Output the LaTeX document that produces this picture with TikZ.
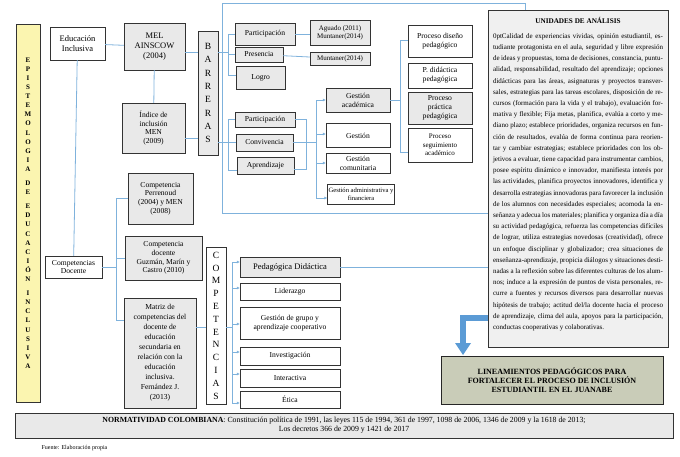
\documentclass[tikz,border=0pt]{standalone}
\usepackage{fontspec}
\setmainfont{Liberation Serif}
\usetikzlibrary{arrows.meta}
\definecolor{lineblue}{HTML}{7FB2DC}
\definecolor{arrowblue}{HTML}{5B9BD5}
\definecolor{boxgray}{HTML}{E9E9E9}
\definecolor{lemon}{HTML}{FBF5B0}
\definecolor{olive}{HTML}{C9CCB8}
\begin{document}
\begin{tikzpicture}[x=1pt,y=-1pt,font=\fontsize{7.6}{8.8}\selectfont]
        \tikzstyle{wbox}=[draw=black!80,fill=white,align=center,inner sep=1pt]
        \tikzstyle{gbox}=[wbox,fill=boxgray]
        \tikzstyle{link}=[draw=lineblue,thick]
        \tikzstyle{arr}=[link,-{Latex[length=3pt,width=3pt]}]
        \useasboundingbox (0,0) rectangle (680,456);

        % columna izquierda
        \node [wbox,fill=lemon,minimum width=24pt,minimum height=378pt] (epi) at (28,213) {};
        \node [font=\fontsize{7}{9.1}\selectfont\bfseries,align=center] at (epi) {E\\P\\I\\S\\T\\E\\M\\O\\L\\O\\G\\I\\A\\[5pt]D\\E\\[5pt]E\\D\\U\\C\\A\\C\\I\\Ó\\N\\[5pt]I\\N\\C\\L\\U\\S\\I\\V\\A};
        \node [wbox,minimum width=55pt,minimum height=33pt,font=\fontsize{8.5}{10}\selectfont] (edu) at (77.5,43.5) {Educación\\Inclusiva};
        \node [wbox,minimum width=57pt,minimum height=22pt] (comp) at (73.5,267) {Competencias\\Docente};

        % barreras
        \node [gbox,minimum width=61pt,minimum height=47pt,font=\fontsize{8.5}{10}\selectfont] (mel) at (154.5,46.5) {MEL\\AINSCOW\\(2004)};
        \node [gbox,minimum width=63pt,minimum height=50pt] (ind) at (153.5,128) {Índice de\\inclusión\\MEN\\(2009)};
        \node [gbox,minimum width=20pt,minimum height=124pt] (bar) at (208,93) {};
        \node [font=\fontsize{9.5}{13.3}\selectfont,align=center] at (bar) {B\\A\\R\\R\\E\\R\\A\\S};
        \node [gbox,minimum width=60pt,minimum height=22pt] (par1) at (265,34) {Participación};
        \node [gbox,minimum width=48pt,minimum height=15pt] (pre) at (259,54.5) {Presencia};
        \node [gbox,minimum width=49pt,minimum height=23pt,anchor=north west,text height=6pt] (log) at (236,66) {Logro};
        \node [gbox,minimum width=60pt,minimum height=25pt,font=\fontsize{7}{8}\selectfont] (agu) at (340,32.5) {Aguado (2011)\\Muntaner(2014)};
        \node [gbox,minimum width=60pt,minimum height=13pt,font=\fontsize{7}{8}\selectfont] (mun) at (340,58.5) {Muntaner(2014)};
        \node [gbox,minimum width=60pt,minimum height=15pt] (par2) at (265,119.5) {Participación};
        \node [gbox,minimum width=57pt,minimum height=17pt] (con) at (264.5,142.5) {Convivencia};
        \node [gbox,minimum width=57pt,minimum height=17pt] (apr) at (265.5,165.5) {Aprendizaje};
        \node [gbox,minimum width=64pt,minimum height=24pt] (gac) at (358,100) {Gestión\\académica};
        \node [wbox,minimum width=64pt,minimum height=24pt,anchor=north,text height=6pt] (ges) at (358,123) {Gestión};
        \node [wbox,minimum width=64pt,minimum height=20pt] (gco) at (358,163) {Gestión\\comunitaria};
        \node [wbox,minimum width=66pt,minimum height=20pt,font=\fontsize{6.6}{8}\selectfont] (gad) at (361,194) {Gestión administrativa y\\financiera};
        \node [wbox,minimum width=64pt,minimum height=32pt] (pdi) at (440,41) {Proceso diseño\\pedagógico};
        \node [wbox,minimum width=64pt,minimum height=25pt] (pdd) at (440,75.5) {P. didáctica\\pedagógica};
        \node [gbox,minimum width=64pt,minimum height=32pt] (ppr) at (440,108) {Proceso\\práctica\\pedagógica};
        \node [wbox,minimum width=64pt,minimum height=34pt,font=\fontsize{7}{8.4}\selectfont] (pse) at (440,145) {Proceso\\seguimiento\\académico};

        % competencias
        \node [gbox,minimum width=65pt,minimum height=51pt] (per) at (160.5,198.5) {Competencia\\Perrenoud\\(2004) y MEN\\(2008)};
        \node [gbox,minimum width=77pt,minimum height=44pt] (guz) at (163.5,258) {Competencia\\docente\\Guzmán, Marín y\\Castro (2010)};
        \node [gbox,minimum width=72pt,minimum height=110pt,font=\fontsize{7.6}{10}\selectfont] (mat) at (160,353) {Matriz de\\competencias del\\docente de\\educación\\secundaria en\\relación con la\\educación\\inclusiva.\\Fernández J.\\(2013)};
        \node [wbox,minimum width=20pt,minimum height=157pt] (cps) at (216,325.5) {};
        \node [font=\fontsize{9.5}{12.8}\selectfont,align=center] at (cps) {C\\O\\M\\P\\E\\T\\E\\N\\C\\I\\A\\S};
        \node [gbox,minimum width=100pt,minimum height=20pt,font=\fontsize{8.5}{9}\selectfont] (ped) at (290,267) {Pedagógica Didáctica};
        \node [wbox,minimum width=100pt,minimum height=17pt] (lid) at (290,291.5) {Liderazgo};
        \node [wbox,minimum width=100pt,minimum height=32pt] (ggr) at (290,323) {Gestión de grupo y\\aprendizaje cooperativo};
        \node [wbox,minimum width=100pt,minimum height=18pt] (inv) at (290,356) {Investigación};
        \node [wbox,minimum width=100pt,minimum height=18pt] (int) at (290,378) {Interactiva};
        \node [wbox,minimum width=100pt,minimum height=17pt] (eti) at (290,399.5) {Ética};

        % unidades y lineamientos
        \node [gbox,fill=boxgray!70,minimum width=180pt,minimum height=337pt] (uni) at (578,178.5) {};
        \node [anchor=north,font=\fontsize{7.2}{8}\selectfont\bfseries] at ([yshift=-4pt]uni.north) {UNIDADES DE ANÁLISIS};
        \node [anchor=north,text width=170pt,align=justify,font=\fontsize{7}{11.2}\selectfont\hyphenpenalty=10000\tolerance=9999] (unitxt) at ([yshift=-20pt]uni.north) {Calidad de experiencias vividas, opinión estudiantil, estudiante protagonista en el aula, seguridad y libre expresión de ideas y propuestas, toma de decisiones, constancia, puntualidad, responsabilidad, resultado del aprendizaje; opciones didácticas para las áreas, asignaturas y proyectos transversales, estrategias para las tareas escolares, disposición de recursos (formación para la vida y el trabajo), evaluación formativa y flexible; Fija metas, planifica, evalúa a corto y mediano plazo; establece prioridades, organiza recursos en función de resultados, evalúa de forma continua para reorientar y cambiar estrategias; establece prioridades con los objetivos a evaluar, tiene capacidad para instrumentar cambios, posee espíritu dinámico e innovador, manifiesta interés por las actividades, planifica proyectos innovadores, identifica y desarrolla estrategias innovadoras para favorecer la inclusión de los alumnos con necesidades especiales; acomoda la enseñanza y adecua los materiales; planifica y organiza día a día su actividad pedagógica, refuerza las competencias difíciles de lograr, utiliza estrategias novedosas (creatividad), ofrece un enfoque disciplinar y globalizador; crea situaciones de enseñanza-aprendizaje, propicia diálogos y situaciones destinadas a la reflexión sobre las diferentes culturas de los alumnos; induce a la expresión de puntos de vista personales, recurre a fuentes y recursos diversos para desarrollar nuevas hipótesis de trabajo; actitud del/la docente hacia el proceso de aprendizaje, clima del aula, apoyos para la participación, conductas cooperativas y colaborativas.};
        \node [draw=black!85,thick,fill=olive,minimum width=222pt,minimum height=48pt,align=center,font=\fontsize{8}{9}\selectfont\bfseries] (lin) at (552,380) {LINEAMIENTOS PEDAGÓGICOS PARA\\FORTALECER EL PROCESO DE INCLUSIÓN\\ESTUDIANTIL EN EL JUANABE};
        \draw [line width=6pt,draw=arrowblue] (uni.west |- 0,318) -- (463,318) -- (463,344);
        \fill [arrowblue] (455,343) -- (471,343) -- (463,355) -- cycle;

        \node [gbox,minimum width=658pt,minimum height=25pt,font=\fontsize{7.8}{9}\selectfont] (nor) at (344,425.5) {\textbf{NORMATIVIDAD COLOMBIANA}: Constitución política de 1991, las leyes 115 de 1994, 361 de 1997, 1098 de 2006, 1346 de 2009 y la 1618 de 2013;\\Los decretos 366 de 2009 y 1421 de 2017};
        \node [anchor=west,font=\fontsize{6}{7}\selectfont] (fue) at (38,448) {Fuente: Elaboración propia};

        % conectores
        \path [link] (edu) -- (mel);
        \path [link] (edu) -- (comp);
        \path [link] (mel) -- (ind);
        \path [link] (mel.east |- 0,52) -- (bar.west |- 0,52);
        \path [link] (ind.east |- 0,138) -- (bar.west |- 0,138);
        \path [link] (bar.east |- 0,52) -- (228,52);
        \path [link] (par1.west) -| (228,75) -- (log.west |- 0,75);
        \path [link] (228,54.5) -- (pre.west);
        \path [link] (par1) -- (agu.west |- par1);
        \path [link] (pre) -- (mun);
        \path [link] (bar.east |- con) -- (con.west);
        \path [link] (par2.west) -| (228,170) -- (apr.west |- 0,170);
        \path [link] (par2.east) -| (306,169) -- (apr.east |- 0,169);
        \path [link] (con.east) -- (316,142.5);
        \path [link] (316,100) -- (316,198);
        \foreach \g/\yy in {gac/100,ges/134,gco/163,gad/198}
          \draw [arr] (316,\yy) -- (\g.west |- 0,\yy);
        \path [link] (gac.east) -- (400,100);
        \path [link] (pdi.west |- 0,40) -| (400,152) -- (pse.west |- 0,152);
        \path [link] (222,213) -- (222,3) -- (525,3) -- (525,10);
        \path [link] (222,213) -- (uni.west |- 0,213);
        \path [link] (comp.east) -- (116,267);
        \path [link] (per.west |- 0,198) -| (116,320) -- (mat.west |- 0,320);
        \path [link] (116,258) -- (guz.west);
        \path [link] (mat.east |- 0,327) -- (cps.west |- 0,327);
        \path [link] (cps.east |- 0,327) -- (232,327);
        \path [link] (232,262) -- (232,403);
        \foreach \c/\yy in {ped/262,lid/288,ggr/324,inv/352,int/374,eti/403}
          \draw [arr] (232,\yy) -- (\c.west |- 0,\yy);
        \path [link] (ped.east) -- (uni.west |- ped);
\end{tikzpicture}
\end{document}
